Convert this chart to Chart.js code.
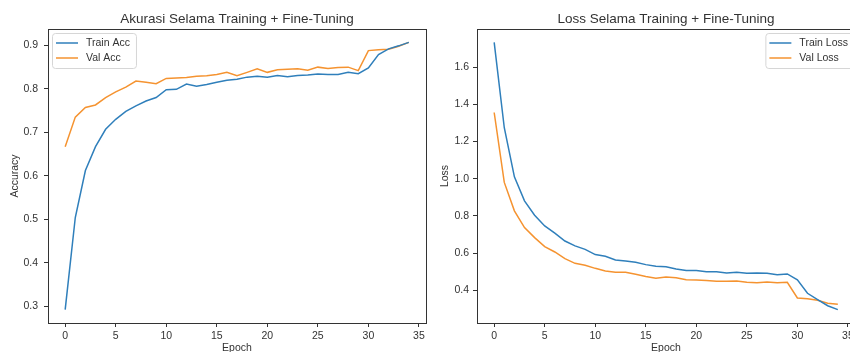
<!DOCTYPE html>
<html>
<head>
<meta charset="utf-8">
<script src="https://cdn.jsdelivr.net/npm/chart.js@4.4.1/dist/chart.umd.min.js"></script>
<style>
html, body { margin: 0; padding: 0; background: #fff; overflow: hidden; width: 850px; height: 352px; }
#accBox { position: absolute; left: 0; top: 0; width: 430px; height: 362px; }
#lossBox { position: absolute; left: 428px; top: 0; width: 432px; height: 362px; }
</style>
</head>
<body>
<div id="accBox"><canvas id="accChart" width="430" height="362"></canvas></div>
<div id="lossBox"><canvas id="lossChart" width="432" height="362"></canvas></div>
<script>
// data
const epochs = [0,1,2,3,4,5,6,7,8,9,10,11,12,13,14,15,16,17,18,19,20,21,22,23,24,25,26,27,28,29,30,31,32,33,34];

const trainAcc = [0.292,0.504,0.612,0.667,0.707,0.730,0.748,0.761,0.772,0.780,0.798,0.799,0.811,0.806,0.810,0.815,0.820,0.822,0.827,0.829,0.827,0.831,0.828,0.831,0.832,0.834,0.833,0.833,0.838,0.835,0.848,0.879,0.892,0.899,0.907];
const valAcc = [0.667,0.735,0.757,0.763,0.780,0.793,0.804,0.818,0.815,0.812,0.824,0.825,0.826,0.829,0.830,0.833,0.838,0.830,0.838,0.846,0.838,0.844,0.845,0.846,0.843,0.850,0.847,0.849,0.850,0.842,0.888,0.890,0.891,0.898,0.907];

const trainLoss = [1.733,1.274,1.010,0.881,0.804,0.746,0.707,0.665,0.639,0.620,0.592,0.583,0.563,0.558,0.551,0.538,0.529,0.527,0.515,0.506,0.506,0.500,0.500,0.493,0.497,0.491,0.493,0.491,0.483,0.488,0.456,0.384,0.350,0.317,0.296];
const valLoss = [1.356,0.980,0.827,0.737,0.683,0.635,0.606,0.570,0.545,0.535,0.518,0.504,0.497,0.497,0.486,0.474,0.465,0.472,0.468,0.457,0.456,0.452,0.448,0.448,0.450,0.443,0.441,0.445,0.441,0.443,0.359,0.355,0.346,0.330,0.325];

const epochTicks = [0,5,10,15,20,25,30,35];
const accTicks = [0.3,0.4,0.5,0.6,0.7,0.8,0.9];
const lossTicks = [0.4,0.6,0.8,1.0,1.2,1.4,1.6];

const BLUE = '#2f7fbb';
const ORANGE = '#f59330';
const FONT = '"Liberation Sans", Arial, sans-serif';
const INK = '#333';
const SMALL = 10.5;

// matplotlib-like 5% margins around the data
function margins(min, max) {
    const pad = (max - min) * 0.05;
    return [min - pad, max + pad];
}

function pts(ys) {
    return ys.map((y, i) => ({ x: epochs[i], y: y }));
}

// box around the plot area (all four spines)
const frame = {
    id: 'frame',
    afterDraw(chart) {
        const a = chart.chartArea, ctx = chart.ctx;
        ctx.save();
        ctx.strokeStyle = INK;
        ctx.lineWidth = 1;
        ctx.strokeRect(Math.round(a.left) + 0.5, Math.round(a.top) + 0.5, Math.round(a.right - a.left), Math.round(a.bottom - a.top));
        ctx.restore();
    }
};

// legend drawn inside the axes, like matplotlib's framed legend
const boxLegend = {
    id: 'boxLegend',
    afterDraw(chart, args, opts) {
        const ctx = chart.ctx, a = chart.chartArea;
        const items = chart.data.datasets;
        ctx.save();
        ctx.font = SMALL + 'px ' + FONT;
        const textW = Math.max(...items.map(d => ctx.measureText(d.label).width));
        const w = 34 + textW + 6;
        const h = items.length * 15 + 5;
        const x = opts.side === 'right' ? a.right - 1 - w : a.left + 4;
        const y = a.top + 4;
        ctx.beginPath();
        ctx.roundRect(x + 0.5, y + 0.5, w, h, 3);
        ctx.fillStyle = 'rgba(255,255,255,0.85)';
        ctx.fill();
        ctx.strokeStyle = '#d6d6d6';
        ctx.lineWidth = 1;
        ctx.stroke();
        items.forEach((d, i) => {
            const cy = y + 10 + i * 15;
            ctx.beginPath();
            ctx.moveTo(x + 4, cy);
            ctx.lineTo(x + 26, cy);
            ctx.strokeStyle = d.borderColor;
            ctx.lineWidth = 1.5;
            ctx.stroke();
            ctx.fillStyle = INK;
            ctx.textBaseline = 'middle';
            ctx.textAlign = 'left';
            ctx.fillText(d.label, x + 34, cy);
        });
        ctx.restore();
    }
};

function makeChart(id, cfg) {
    const xr = margins(epochs[0], epochs[epochs.length - 1]);
    const allY = cfg.series.flatMap(s => s.data);
    const yr = margins(Math.min(...allY), Math.max(...allY));
    return new Chart(document.getElementById(id), {
        type: 'line',
        data: {
            datasets: cfg.series.map(s => ({
                label: s.label,
                data: pts(s.data),
                borderColor: s.color,
                backgroundColor: s.color,
                borderWidth: 1.5,
                pointRadius: 0,
                tension: 0,
                fill: false
            }))
        },
        options: {
            responsive: false,
            animation: false,
            events: [],
            layout: { padding: { left: 0, right: cfg.rightPad, top: 0, bottom: 0 } },
            plugins: {
                legend: { display: false },
                tooltip: { enabled: false },
                title: {
                    display: true,
                    text: cfg.title,
                    fullSize: false,
                    color: INK,
                    font: { family: FONT, size: 13.5, weight: 'normal' },
                    padding: { top: 11, bottom: 1.8 }
                },
                boxLegend: { side: cfg.legendSide }
            },
            scales: {
                x: {
                    type: 'linear',
                    min: xr[0],
                    max: xr[1],
                    afterBuildTicks: s => { s.ticks = epochTicks.map(v => ({ value: v })); },
                    afterFit: s => { s.height = 39; },
                    grid: { drawOnChartArea: false, drawTicks: true, tickLength: 4, color: INK },
                    border: { display: false },
                    ticks: { color: INK, font: { family: FONT, size: SMALL }, padding: 3, maxRotation: 0 },
                    title: { display: true, text: 'Epoch', color: INK, font: { family: FONT, size: SMALL }, padding: { top: 0, bottom: 8 } }
                },
                y: {
                    type: 'linear',
                    min: yr[0],
                    max: yr[1],
                    afterBuildTicks: s => { s.ticks = cfg.yTicks.map(v => ({ value: v })); },
                    afterFit: s => { s.width = cfg.yWidth; },
                    grid: { drawOnChartArea: false, drawTicks: true, tickLength: 4, color: INK },
                    border: { display: false },
                    ticks: { color: INK, font: { family: FONT, size: SMALL }, padding: cfg.tickPad, callback: v => v.toFixed(1) },
                    title: { display: true, text: cfg.yTitle, color: INK, font: { family: FONT, size: SMALL }, padding: { top: cfg.yTitlePad, bottom: 0 } }
                }
            }
        },
        plugins: [frame, boxLegend]
    });
}

makeChart('accChart', {
    title: 'Akurasi Selama Training + Fine-Tuning',
    yTitle: 'Accuracy',
    series: [
        { label: 'Train Acc', data: trainAcc, color: BLUE },
        { label: 'Val Acc', data: valAcc, color: ORANGE }
    ],
    yTicks: accTicks,
    yWidth: 48,
    tickPad: 6,
    yTitlePad: 9,
    rightPad: 4,
    legendSide: 'left'
});

makeChart('lossChart', {
    title: 'Loss Selama Training + Fine-Tuning',
    yTitle: 'Loss',
    series: [
        { label: 'Train Loss', data: trainLoss, color: BLUE },
        { label: 'Val Loss', data: valLoss, color: ORANGE }
    ],
    yTicks: lossTicks,
    yWidth: 49,
    tickPad: 4,
    yTitlePad: 11,
    rightPad: 5,
    legendSide: 'right'
});
</script>
</body>
</html>
